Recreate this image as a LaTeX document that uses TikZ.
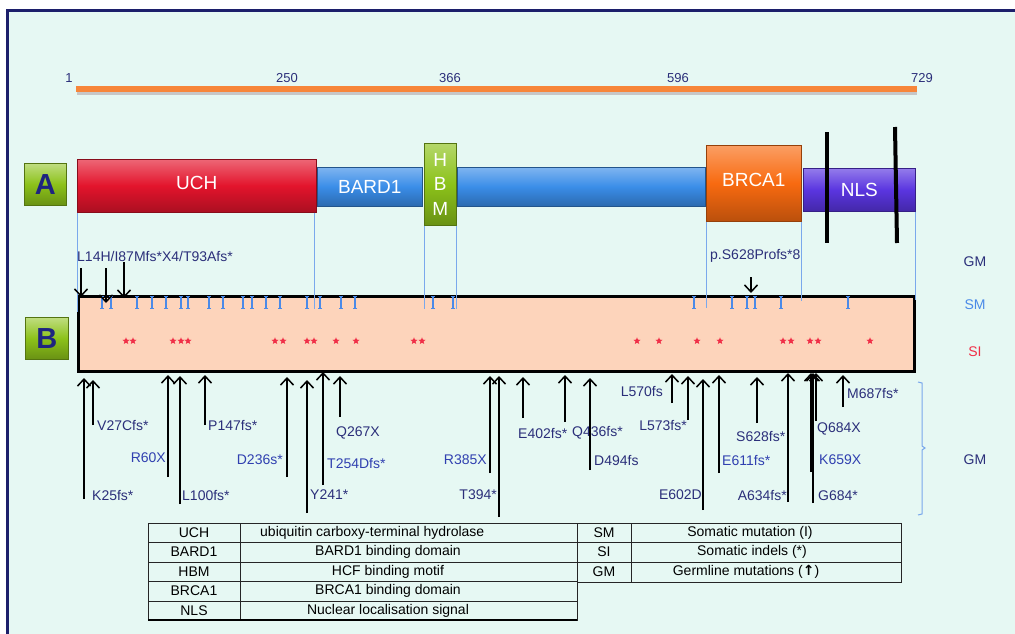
\documentclass[tikz,border=0pt]{standalone}
\usepackage{fontspec}
\setmainfont{Liberation Sans}
\newfontfamily\djv{DejaVu Sans}
\usetikzlibrary{arrows.meta,shapes.geometric}
\definecolor{mint}{HTML}{E6F8F3}
\definecolor{framenavy}{HTML}{1C1F6B}
\definecolor{rulerorange}{HTML}{F7863A}
\definecolor{navytext}{HTML}{2B2F7A}
\definecolor{royal}{HTML}{3040B0}
\definecolor{smblue}{HTML}{4A8AE8}
\definecolor{sired}{HTML}{F03048}
\definecolor{bline}{HTML}{7AA8EC}
\definecolor{peach}{HTML}{FDD4BB}
\definecolor{ucred}{HTML}{E3142C}
\definecolor{bardblue}{HTML}{3A8DE8}
\definecolor{limegreen}{HTML}{8CC21A}
\definecolor{brcaorange}{HTML}{F86A10}
\definecolor{nlspurple}{HTML}{5A35E0}
\definecolor{letternavy}{HTML}{1E2480}
\tikzset{
  dom/.style={draw=#1!60!black, line width=0.6pt, top color=#1!65!white,
    bottom color=#1!75!black, middle color=#1, text=white,
    font=\fontsize{19}{22}\selectfont, inner sep=0pt, anchor=north west},
  letterbox/.style={draw=limegreen!60!black, line width=0.6pt, top color=limegreen!55!white,
    bottom color=limegreen!75!black, middle color=limegreen, text=letternavy,
    font=\bfseries\fontsize{29}{30}\selectfont, inner sep=0pt, anchor=north west,
    minimum width=42pt, minimum height=42pt},
  num/.style={text=navytext, font=\fontsize{13}{14}\selectfont, inner sep=0pt},
  mut/.style={font=\fontsize{14}{15}\selectfont, inner sep=0pt},
  sidelab/.style={font=\fontsize{14}{15}\selectfont, inner sep=0pt},
  gmarrow/.style={draw=black, line width=1.7pt,
    -{Straight Barb[length=7pt,width=13pt,line width=1.5pt]}},
  smtick/.style={draw=smblue, line width=1.3pt,
    {Bar[width=4pt,line width=1pt]}-{Bar[width=4pt,line width=1pt]}},
  bl/.style={draw=bline, line width=0.9pt},
  sistar/.style={star, star points=5, star point ratio=2.3, fill=sired,
    minimum size=7.5pt, inner sep=0pt},
  tab/.style={font=\fontsize{14}{15}\selectfont, inner sep=0pt, text=black},
  tline/.style={draw=black!85, line width=0.8pt}
}
\begin{document}
\begin{tikzpicture}[x=1pt,y=-1pt]
\useasboundingbox (0,0) rectangle (1015,634);
\fill[white] (0,0) rectangle (1015,634);
\draw[draw=framenavy, line width=3pt, fill=mint] (7,11) rectangle (1035,660);

% ruler
\draw[line width=6pt, black!22] (77,91.5) -- (917,91.5);
\draw[line width=5.5pt, rulerorange] (76,89) -- (917,89);
\node[num] (n1) at (69,78) {1};
\node[num] (n250) at (287,78) {250};
\node[num] (n366) at (450,78) {366};
\node[num] (n596) at (678,78) {596};
\node[num] (n729) at (922,78) {729};

% A row
\node[letterbox] (A) at (24,163) {A};
\node[dom=bardblue, minimum width=248pt, minimum height=39pt] (mid) at (457,167) {};
\node[dom=ucred, minimum width=239pt, minimum height=53pt] (uch) at (77,159) {\raisebox{5pt}{UCH}};
\node[dom=bardblue, minimum width=105pt, minimum height=39pt] (bard) at (317,167) {BARD1};
\node[dom=limegreen, minimum width=32pt, minimum height=82pt, align=center,
      font=\fontsize{19}{24.5}\selectfont] (hbm) at (424,143) {H\\B\\M};
\node[dom=brcaorange, minimum width=95pt, minimum height=76pt] (brca) at (706,145) {\raisebox{6pt}{BRCA1}};
\node[dom=nlspurple, minimum width=112pt, minimum height=43pt] (nls) at (803,168) {NLS};
\draw[line width=4pt, black] (827,132) -- (827,243);
\draw[line width=4pt, black] (895,127) -- (897,243);

% B box
\node[letterbox, minimum width=43pt] (B) at (25,317) {B};
\node[draw=black, line width=3.2pt, fill=peach, anchor=north west,
      minimum width=836pt, minimum height=75pt, inner sep=0pt] (bbox) at (77,295) {};

% boundary lines
\draw[bl] (uch.south west) -- (uch.south west |- 0,312);
\draw[bl] ([xshift=-2pt]uch.south east) -- ([xshift=-2pt]uch.south east |- 0,309);
\draw[bl] (hbm.south west) -- (hbm.south west |- 0,309);
\draw[bl] (hbm.south east) -- (hbm.south east |- 0,309);
\draw[bl] (brca.south west) -- (brca.south west |- 0,308);
\draw[bl] (brca.south east) -- (brca.south east |- 0,301);
\draw[bl] (nls.south east) -- (nls.south east |- 0,300);

% SM ticks
\foreach \x in {102,111,137,152,166,181,188,209,223,243,252,266,280,307,320,341,355,433,453,694,732,747,755,781,848}{
  \coordinate (smt\x) at (\x,296);
  \coordinate (smb\x) at (\x,309);
  \draw[smtick] (smt\x) -- (smb\x);
}

% SI stars
\foreach \x in {126,133,173,181,188,275,283,307,314,336,356,414,422,637,659,697,720,783,791,810,818,870}{
  \node[sistar] (s\x) at (\x,341) {};
}

% upper germline labels and arrows
\node[mut, text=navytext, anchor=west] (gmtopA) at (77,256) {L14H/I87Mfs*X4/T93Afs*};
\node[mut, text=navytext, anchor=west] (gmtopB) at (710,256) {p.S628Profs*8};
\coordinate (ua1) at (81,268);  \coordinate (ub1) at (81,297);
\coordinate (ua2) at (106,268); \coordinate (ub2) at (106,303);
\coordinate (ua3) at (124,262); \coordinate (ub3) at (124,298);
\coordinate (ua4) at (751,277); \coordinate (ub4) at (751,293);
\foreach \i in {1,2,3,4}{ \draw[gmarrow] (ua\i) -- (ub\i); }

% lower germline arrows
\foreach \n/\x/\t/\b/\lx/\ly/\an/\c/\txt in {
 1/84/378/499/92/495/west/navytext/K25fs*,
 2/93/380/425/97/425/west/navytext/V27Cfs*,
 3/168/375/477/166/458/east/royal/R60X,
 4/180/376/504/182/495/west/navytext/L100fs*,
 5/205/375/425/208/425/west/navytext/P147fs*,
 6/287/377/477/283/460/east/royal/D236s*,
 7/307/380/513/310/495/west/navytext/Y241*,
 8/323/372/485/327/463/west/royal/T254Dfs*,
 9/340/376/417/336/433/west/navytext/Q267X,
 10/490/376/473/487/460/east/royal/R385X,
 11/499/376/517/497/495/east/navytext/T394*,
 12/523/377/418/518/433/west/navytext/E402fs*,
 13/565/375/422/572/433/west/navytext/Q436fs*,
 14/590/378/470/594/460/west/navytext/D494fs,
 15/672/374/403/663/391/east/navytext/L570fs,
 16/688/376/420/687/425/east/navytext/L573fs*,
 17/703/379/510/702/495/east/navytext/E602D,
 18/719/375/473/722/460/west/royal/E611fs*,
 19/757/377/423/736/436/west/navytext/S628fs*,
 20/788/373/502/787/495/east/navytext/A634fs*,
 21/811/373/472/819/460/west/royal/K659X,
 22/813/373/503/818/496/west/navytext/G684*,
 23/816/373/421/817/429/west/navytext/Q684X,
 24/843/375/407/847/393/west/navytext/M687fs*}{
  \coordinate (gt\n) at (\x,\t);
  \coordinate (gb\n) at (\x,\b);
  \draw[gmarrow] (gb\n) -- (gt\n);
  \node[mut, text=\c, anchor=\an] (gl\n) at (\lx,\ly) {\txt};
}

% bracket
\draw[draw=bline, line width=1pt] (918,382) -- (922,383) -- (922,446) -- (925,448)
  -- (922,450) -- (922,514) -- (918,515);

% side labels
\node[sidelab, text=navytext] (gm1) at (975,262) {GM};
\node[sidelab, text=smblue] (sm) at (975,305) {SM};
\node[sidelab, text=sired] (si) at (975,352) {SI};
\node[sidelab, text=navytext] (gm2) at (975,460) {GM};

% legend table
\draw[tline] (148,523) rectangle (577,620);
\draw[tline] (577,523) rectangle (901,582);
\foreach \y in {542,562,581,601}{ \draw[tline] (148,\y) -- (577,\y); }
\foreach \y in {542,562}{ \draw[tline] (577,\y) -- (901,\y); }
\draw[tline] (240,523) -- (240,620);
\draw[tline] (631,523) -- (631,582);
\draw[draw=black, line width=1.4pt] (148,620) -- (577,620);
\node[tab] (t1a) at (194,533) {UCH};
\node[tab, anchor=west] (t1b) at (260,533) {ubiquitin carboxy-terminal hydrolase};
\node[tab] (t2a) at (194,552) {BARD1};
\node[tab] (t2b) at (388,552) {BARD1 binding domain};
\node[tab] (t3a) at (194,572) {HBM};
\node[tab] (t3b) at (388,572) {HCF binding motif};
\node[tab] (t4a) at (194,591) {BRCA1};
\node[tab] (t4b) at (388,591) {BRCA1 binding domain};
\node[tab] (t5a) at (194,611) {NLS};
\node[tab] (t5b) at (388,611) {Nuclear localisation signal};
\node[tab] (r1a) at (604,533) {SM};
\node[tab] (r1b) at (750,533) {Somatic mutation (I)};
\node[tab] (r2a) at (604,552) {SI};
\node[tab] (r2b) at (752,552) {Somatic indels (*)};
\node[tab] (r3a) at (604,572) {GM};
\node[tab] (r3b) at (746,572) {Germline mutations ({\djv\bfseries ↑})};
\end{tikzpicture}
\end{document}
